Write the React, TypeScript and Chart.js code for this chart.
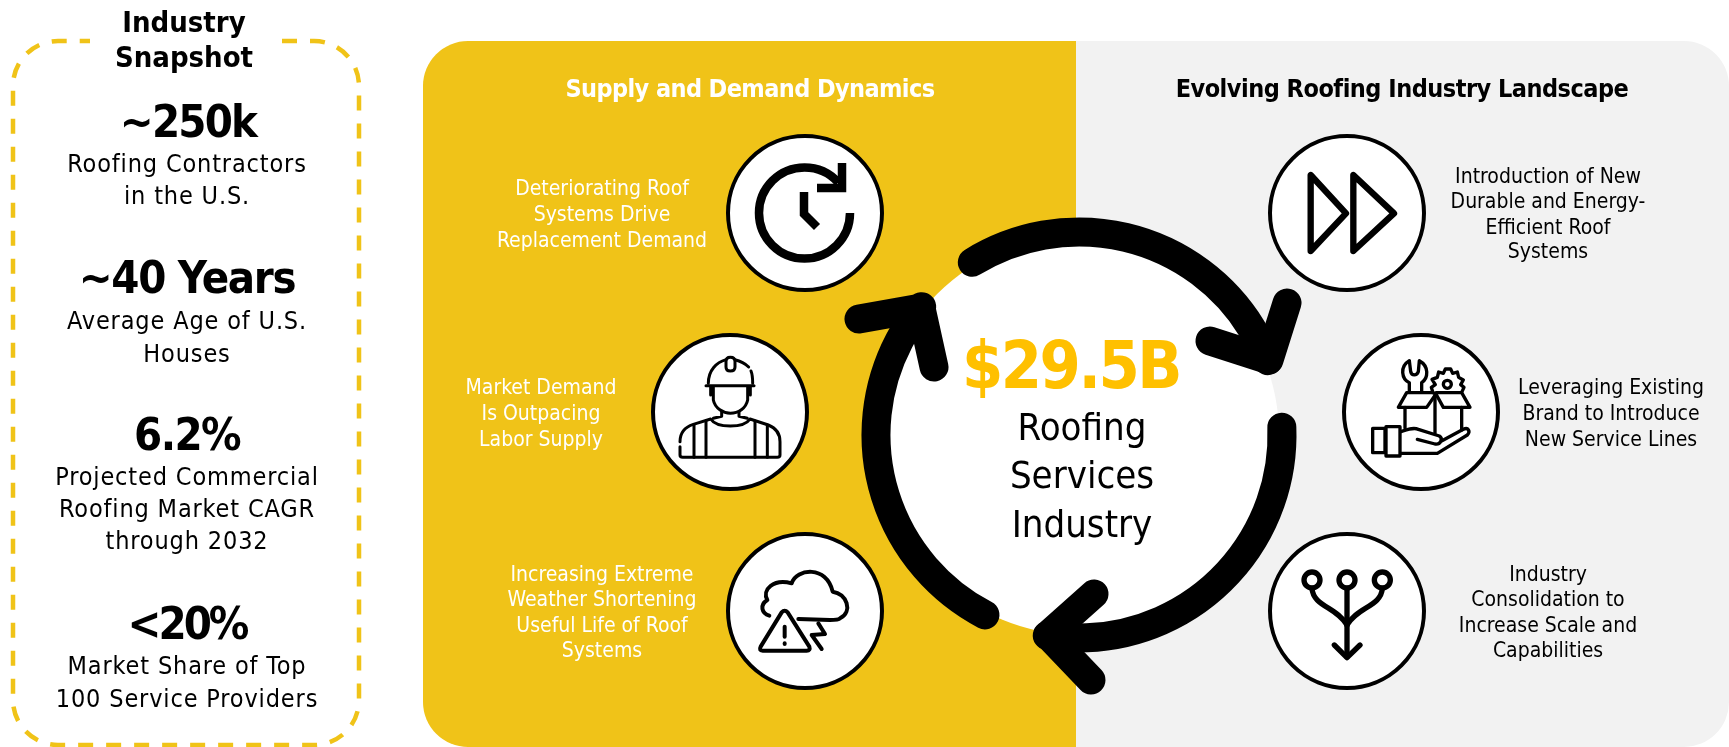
import React, { useEffect, useRef } from "react";
import { Chart, registerables } from "chart.js";

Chart.register(...registerables);

// ---- content ----
const snapshotTitle = ["Industry", "Snapshot"];
const statValues = ["~250k", "~40 Years", "6.2%", "<20%"];
const statLabels = [
  ["Roofing Contractors", "in the U.S."],
  ["Average Age of U.S.", "Houses"],
  ["Projected Commercial", "Roofing Market CAGR", "through 2032"],
  ["Market Share of Top", "100 Service Providers"],
];
const leftHeader = "Supply and Demand Dynamics";
const rightHeader = "Evolving Roofing Industry Landscape";
const leftItems = [
  ["Deteriorating Roof", "Systems Drive", "Replacement Demand"],
  ["Market Demand", "Is Outpacing", "Labor Supply"],
  ["Increasing Extreme", "Weather Shortening", "Useful Life of Roof", "Systems"],
];
const rightItems = [
  ["Introduction of New", "Durable and Energy-", "Efficient Roof", "Systems"],
  ["Leveraging Existing", "Brand to Introduce", "New Service Lines"],
  ["Industry", "Consolidation to", "Increase Scale and", "Capabilities"],
];
const marketSize = "$29.5B";
const marketName = ["Roofing", "Services", "Industry"];

// ---- layout (page pixels, used through the chart's scales) ----
const W = 1729;
const H = 747;
const YELLOW = "#F0C318";
const FONT = '"DejaVu Sans Condensed", "DejaVu Sans", sans-serif';
const iconCircles = [
  { x: 805, y: 213 },
  { x: 730, y: 412 },
  { x: 805, y: 611 },
  { x: 1347, y: 213 },
  { x: 1421, y: 412 },
  { x: 1347, y: 611 },
];
const hub = { x: 1079, y: 435 };
const statValueLayout = [
  { x: 188, y: 137, ls: "-1.8px" },
  { x: 187, y: 293, ls: "-1.3px" },
  { x: 187, y: 450, ls: "-1.6px" },
  { x: 187, y: 639, ls: "-3px" },
];
const statLabelLayout = [
  [172, 204],
  [329, 362],
  [485, 517, 549],
  [674, 707],
];
const leftItemLayout = [
  { x: 602, ys: [195, 221, 247] },
  { x: 541, ys: [394, 420, 446] },
  { x: 602, ys: [581, 606, 632, 657] },
];
const rightItemLayout = [
  { x: 1548, ys: [183, 208, 234, 258] },
  { x: 1611, ys: [394, 420, 446] },
  { x: 1548, ys: [581, 606, 632, 657] },
];
const arrows = [
  { from: -121.7, to: -21.5, tip: [1269, 360], legs: [[1287, 303], [1210, 341]] },
  { from: -2.2, to: 99, tip: [1048, 635], legs: [[1094, 594], [1091, 680]] },
  { from: 117.6, to: 219.2, tip: [921, 308], legs: [[859, 319], [934, 367]] },
];

type Icon = { ox: number; oy: number; lw: number; paths: string[] };
const icons: Icon[] = [
  {
    ox: 670, oy: 345, lw: 9,
    paths: [
      "M108 122 L252 122",
      "M115 115 C115 75 140 52 168 44",
      "M168 50 Q168 37 181 37 Q195 37 195 50 L195 66 Q195 78 181 78 Q168 78 168 66 Z",
      "M195 44 C212 48 226 56 236 66",
      "M243 78 C248 90 248 105 248 115",
      "M130 125 L130 165 C135 190 160 205 181 205 C205 205 228 190 233 165 L233 125",
      "M122 125 L122 150 M241 125 L241 150",
      "M155 200 L155 214 L130 220 M207 200 L207 214 L232 220",
      "M30 290 C30 260 45 246 70 238 L122 222 C140 250 222 250 240 222 L295 240 C320 250 330 265 330 290 L330 330 Q330 337 322 337 L38 337 Q30 337 30 330 L30 305",
      "M72 240 L72 337 M108 228 L108 337 M255 228 L255 337 M292 240 L292 337",
    ],
  },
  {
    ox: 1360, oy: 350, lw: 10,
    paths: [
      "M148 125 L148 98 C125 88 118 50 148 32 L152 65 C155 78 170 78 175 65 L178 32 C208 48 205 85 185 98 L185 125",
      "M274 103 A12 12 0 1 1 250 103 A12 12 0 1 1 274 103",
      "M218 125 L214 112 L226 104 L216 88 L232 82 L236 66 L250 70 L256 57 L272 57 L278 70 L292 66 L296 82 L310 90 L302 104 L312 112 L306 125",
      "M115 172 L140 128 L218 128 L228 132 L200 172 Z",
      "M228 132 L250 172 L330 172 L305 128 L228 128",
      "M135 172 L135 235 M225 135 L225 250 M305 172 L305 240",
      "M38 235 L75 235 L75 308 L38 308 Z",
      "M78 230 L120 230 L120 318 L78 318 Z",
      "M122 245 C145 238 160 232 175 238 L238 258 C250 265 242 285 225 282 L172 268",
      "M246 272 L310 238 C325 230 332 245 322 255 L232 310 L122 310",
    ],
  },
  {
    ox: 750, oy: 555, lw: 12,
    paths: [
      "M58 182 C35 175 28 150 52 135 C35 105 70 70 125 85 C140 40 230 30 248 110 C290 115 310 170 270 190 C265 195 250 195 240 195 L145 192",
      "M95 172 Q104 162 113 172 L178 275 Q182 287 170 287 L38 287 Q26 287 32 275 Z",
      "M104 215 L104 245",
      "M104 265 L104 267",
      "M205 205 L225 237 L185 240 L215 282",
    ],
  },
  {
    ox: 1250, oy: 120, lw: 19,
    paths: [
      "M182 165 L182 393 L288 280 Z",
      "M310 165 L310 393 L432 280 Z",
    ],
  },
  {
    ox: 1250, oy: 500, lw: 16,
    paths: [
      "M210 240 A24 24 0 1 1 162 240 A24 24 0 1 1 210 240",
      "M315 240 A24 24 0 1 1 267 240 A24 24 0 1 1 315 240",
      "M421 240 A24 24 0 1 1 373 240 A24 24 0 1 1 421 240",
      "M291 265 L291 470",
      "M253 435 L291 473 L330 435",
      "M186 265 C190 320 260 320 291 375",
      "M397 265 C393 320 322 320 291 375",
    ],
  },
];

const infographic = {
  id: "infographic",
  beforeDatasetsDraw(chart: any) {
    const { ctx, scales } = chart;
    const px = (v: number) => scales.x.getPixelForValue(v);
    const py = (v: number) => scales.y.getPixelForValue(v);
    ctx.save();
    // panels
    ctx.fillStyle = "#F2F2F2";
    ctx.beginPath();
    ctx.roundRect(px(1076), py(41), px(1729) - px(1076), py(747) - py(41), [0, 45, 45, 0]);
    ctx.fill();
    ctx.fillStyle = YELLOW;
    ctx.beginPath();
    ctx.roundRect(px(423), py(41), px(1076) - px(423), py(747) - py(41), [45, 0, 0, 45]);
    ctx.fill();
    // dashed box, open behind the title
    const L = px(13), R = px(359), T = py(41), B = py(745), r = 45;
    ctx.strokeStyle = YELLOW;
    ctx.lineWidth = 4.5;
    ctx.setLineDash([15, 13]);
    ctx.beginPath();
    ctx.moveTo(px(282), T);
    ctx.arcTo(R, T, R, B, r);
    ctx.arcTo(R, B, L, B, r);
    ctx.arcTo(L, B, L, T, r);
    ctx.arcTo(L, T, px(90), T, r);
    ctx.lineTo(px(90), T);
    ctx.stroke();
    ctx.restore();
  },
  afterDatasetsDraw(chart: any) {
    const { ctx, scales } = chart;
    const px = (v: number) => scales.x.getPixelForValue(v);
    const py = (v: number) => scales.y.getPixelForValue(v);
    ctx.save();

    // hub arrows
    ctx.strokeStyle = "#000";
    ctx.lineWidth = 29;
    ctx.lineCap = "round";
    ctx.lineJoin = "round";
    for (const a of arrows) {
      ctx.beginPath();
      ctx.arc(px(hub.x), py(hub.y), 203, (a.from * Math.PI) / 180, (a.to * Math.PI) / 180);
      ctx.stroke();
      ctx.beginPath();
      ctx.moveTo(px(a.legs[0][0]), py(a.legs[0][1]));
      ctx.lineTo(px(a.tip[0]), py(a.tip[1]));
      ctx.lineTo(px(a.legs[1][0]), py(a.legs[1][1]));
      ctx.stroke();
    }

    // clock icon
    ctx.lineWidth = 8.5;
    ctx.lineCap = "butt";
    ctx.lineJoin = "miter";
    ctx.beginPath();
    ctx.arc(px(804.5), py(213), 45.5, 0, (-42 * Math.PI) / 180 + Math.PI * 2);
    ctx.stroke();
    ctx.beginPath();
    ctx.moveTo(px(842), py(163));
    ctx.lineTo(px(842), py(188));
    ctx.lineTo(px(817), py(188));
    ctx.stroke();
    ctx.beginPath();
    ctx.moveTo(px(804), py(192));
    ctx.lineTo(px(804), py(214));
    ctx.lineTo(px(817), py(227));
    ctx.stroke();

    // other icons, drawn in a local 3x grid
    ctx.lineCap = "round";
    ctx.lineJoin = "round";
    for (const ic of icons) {
      ctx.save();
      ctx.translate(px(ic.ox), py(ic.oy));
      ctx.scale(1 / 3, 1 / 3);
      ctx.lineWidth = ic.lw;
      for (const p of ic.paths) ctx.stroke(new Path2D(p));
      ctx.restore();
    }

    // texts
    ctx.textAlign = "center";
    ctx.textBaseline = "alphabetic";
    const put = (t: string, x: number, y: number, font: string, color: string, ls = "0px") => {
      ctx.font = font;
      ctx.letterSpacing = ls;
      ctx.fillStyle = color;
      ctx.fillText(t, px(x), py(y));
    };
    const title = `bold 29px ${FONT}`;
    put(snapshotTitle[0], 184, 32, title, "#000");
    put(snapshotTitle[1], 184, 67, title, "#000");
    statValues.forEach((v, i) => {
      const s = statValueLayout[i];
      put(v, s.x, s.y, `bold 45px ${FONT}`, "#000", s.ls);
      statLabels[i].forEach((t, j) => put(t, 187, statLabelLayout[i][j], `25px ${FONT}`, "#000", "0.85px"));
    });
    const head = `bold 25px ${FONT}`;
    put(leftHeader, 750, 97, head, "#fff", "-0.6px");
    put(rightHeader, 1402, 97, head, "#000", "-0.5px");
    const item = `21px ${FONT}`;
    leftItems.forEach((lines, i) =>
      lines.forEach((t, j) => put(t, leftItemLayout[i].x, leftItemLayout[i].ys[j], item, "#fff"))
    );
    rightItems.forEach((lines, i) =>
      lines.forEach((t, j) => put(t, rightItemLayout[i].x, rightItemLayout[i].ys[j], item, "#000"))
    );
    put(marketSize, 1071, 388, `bold 66px ${FONT}`, "#FFC000", "-2.5px");
    [440, 488, 537].forEach((y, i) => put(marketName[i], 1082, y, `38px ${FONT}`, "#000"));
    ctx.restore();
  },
};

export default function App() {
  const ref = useRef<HTMLCanvasElement>(null);
  useEffect(() => {
    const chart = new Chart(ref.current!, {
      type: "scatter",
      data: {
        datasets: [
          {
            label: "hub",
            data: [hub],
            pointRadius: 200,
            pointHoverRadius: 200,
            pointBackgroundColor: "#fff",
            pointBorderWidth: 0,
          },
          {
            label: "icons",
            data: iconCircles,
            pointRadius: 77,
            pointHoverRadius: 77,
            pointBackgroundColor: "#fff",
            pointBorderColor: "#000",
            pointBorderWidth: 4,
          },
        ],
      },
      options: {
        responsive: false,
        animation: false,
        events: [],
        layout: { padding: 0, autoPadding: false },
        plugins: { legend: { display: false }, tooltip: { enabled: false } },
        scales: {
          x: { type: "linear", min: 0, max: W, display: false },
          y: { type: "linear", min: 0, max: H, reverse: true, display: false },
        },
      },
      plugins: [infographic],
    });
    return () => chart.destroy();
  }, []);
  return (
    <canvas
      ref={ref}
      width={W}
      height={H}
      style={{ position: "absolute", left: 0, top: 0, width: W, height: H, display: "block" }}
    />
  );
}
